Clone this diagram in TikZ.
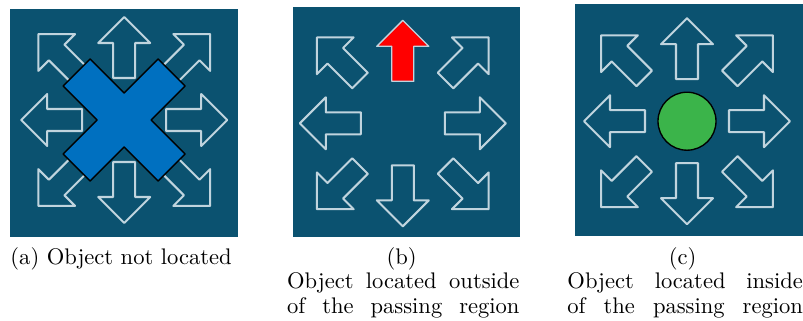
\documentclass[tikz,border=0pt]{standalone}
\usepackage{fontspec}
\definecolor{panelbg}{RGB}{11,82,112}
\definecolor{arrowgrey}{RGB}{192,212,222}
\definecolor{xblue}{RGB}{0,112,192}
\definecolor{dotgreen}{RGB}{59,180,74}
\definecolor{arrowred}{RGB}{255,0,0}
\tikzset{
  panel/.style={fill=panelbg},
  arrowline/.style={draw=arrowgrey, line width=0.9pt, line join=round},
  redarrow/.style={fill=arrowred, draw=arrowgrey, line width=0.6pt, line join=round},
  bigx/.style={fill=xblue, draw=black, line width=0.65pt, line join=round},
  dot/.style={fill=dotgreen, draw=black, line width=0.6pt},
  captext/.style={inner sep=0pt, font=\fontsize{10pt}{11pt}\selectfont}
}
\begin{document}
\begin{tikzpicture}[x=0.4433pt, y=0.4433pt]
\useasboundingbox (0,0) rectangle (803,320);
% panels
\fill[panel] (9.5,320-9) rectangle (238,320-237);
\fill[panel] (293,320-7) rectangle (520,320-237);
\fill[panel] (575,320-4) rectangle (803,320-236);
\coordinate (ca) at (124.2,320-120);
\coordinate (cb) at (402.8,320-123.3);
\coordinate (cc) at (687,320-121.2);
% grey arrows
\foreach \c in {ca,cc}{
  \foreach \a/\s in {0/0,90/0,180/0,270/0,45/18.5,135/18.5,225/18.5,315/18.5}{
    \draw[arrowline, shift={(\c)}, rotate=\a]
      ({103+\s},0) -- ({77+\s},26) -- ({77+\s},11) -- ({42+\s},11) --
      ({42+\s},-11) -- ({77+\s},-11) -- ({77+\s},-26) -- cycle;
  }
}
\foreach \a/\s in {0/0,180/0,270/0,45/18.5,135/18.5,225/18.5,315/18.5}{
  \draw[arrowline, shift={(cb)}, rotate=\a]
    ({103+\s},0) -- ({77+\s},26) -- ({77+\s},11) -- ({42+\s},11) --
    ({42+\s},-11) -- ({77+\s},-11) -- ({77+\s},-26) -- cycle;
}
% red arrow
\draw[redarrow, shift={(cb)}, rotate=90]
  (103,0) -- (77,26) -- (77,11) -- (42,11) -- (42,-11) -- (77,-11) -- (77,-26) -- cycle;
% blue X
\draw[bigx, shift={(ca)}]
  (0,27) -- (34,61) -- (61,34) -- (27,0) -- (61,-34) -- (34,-61) -- (0,-27) --
  (-34,-61) -- (-61,-34) -- (-27,0) -- (-61,34) -- (-34,61) -- cycle;
% green dot
\node[dot, circle, minimum size=58*0.4433pt, inner sep=0pt] (gdot) at (cc) {};
% captions
\node[captext, anchor=base west] (capa) at (10,320-264) {(a) Object not located};
\node[captext, anchor=base] (capb) at (401.7,320-264) {(b)};
\node[captext, anchor=base west] (capb1) at (286.7,320-288.5) {\makebox[103pt][s]{Object located outside}};
\node[captext, anchor=base west] (capb2) at (286.7,320-313) {\makebox[103pt][s]{of the passing region}};
\node[captext, anchor=base] (capc) at (682.7,320-264) {(c)};
\node[captext, anchor=base west] (capc1) at (567,320-288.5) {\makebox[104.4pt][s]{Object located inside}};
\node[captext, anchor=base west] (capc2) at (567,320-313) {\makebox[104.4pt][s]{of the passing region}};
\end{tikzpicture}
\end{document}
